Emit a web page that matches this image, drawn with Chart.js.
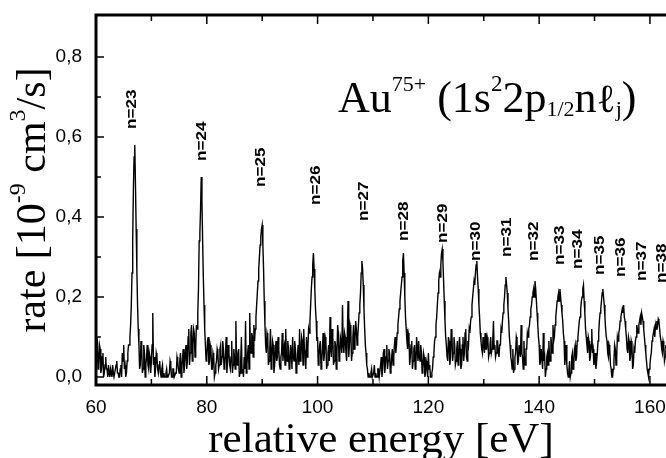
<!DOCTYPE html>
<html>
<head>
<meta charset="utf-8">
<script src="https://cdn.jsdelivr.net/npm/chart.js@4.4.1/dist/chart.umd.min.js"></script>
<style>
  html, body { margin: 0; padding: 0; background: #fff; }
  #wrap { width: 666px; height: 458px; }
</style>
</head>
<body>
<div id="wrap"><canvas id="chart" width="666" height="458"></canvas></div>
<script>
// spectrum channels: first energy and channel width [eV]
const energyStart = 60;
const energyStep = 0.125;

// rate [10^-9 cm^3/s], one row per 5 eV
const rate = [
    0.04,0.10, 0.09,0.02, 0.03,0.08, 0.07,0.01, 0.02,0.05, 0.06,0.00, 0.01,0.03, 0.05,0.02, 0.02,0.00, 0.03,0.01, 0.00,0.02, 0.01,0.00, 0.03,0.01, 0.00,0.00, 0.02,0.03, 0.04,0.01, 0.01,0.00, 0.00,0.02, 0.03,0.00, 0.06,0.04, // 60
    0.08,0.02, 0.03,0.00, 0.01,0.04, 0.06,0.08, 0.08,0.10, 0.13,0.18, 0.26,0.34, 0.47,0.55, 0.58,0.48, 0.37,0.27, 0.18,0.12, 0.08,0.02, 0.03,0.09, 0.07,0.01, 0.02,0.08, 0.06,0.00, 0.03,0.05, 0.08,0.03, 0.02,0.06, 0.05,0.01, // 65
    0.04,0.08, 0.16,0.03, 0.05,0.00, 0.02,0.06, 0.05,0.02, 0.01,0.03, 0.04,0.01, 0.00,0.02, 0.03,0.00, 0.01,0.00, 0.00,0.01, 0.02,0.00, 0.00,0.00, 0.01,0.04, 0.03,0.00, 0.00,0.02, 0.02,0.00, 0.00,0.01, 0.01,0.05, 0.04,0.02, // 70
    0.01,0.04, 0.06,0.00, 0.02,0.05, 0.07,0.01, 0.03,0.06, 0.08,0.02, 0.04,0.10, 0.12,0.03, 0.06,0.11, 0.13,0.04, 0.08,0.12, 0.11,0.05, 0.07,0.13, 0.12,0.16, 0.22,0.34, 0.36,0.42, 0.50,0.44, 0.34,0.25, 0.18,0.12, 0.08,0.04, // 75
    0.05,0.09, 0.10,0.03, 0.04,0.08, 0.07,0.02, 0.02,0.06, 0.05,0.00, 0.01,0.03, 0.04,0.07, 0.06,0.02, 0.03,0.07, 0.08,0.03, 0.05,0.09, 0.07,0.02, 0.03,0.06, 0.10,0.01, 0.04,0.08, 0.06,0.03, 0.02,0.05, 0.09,0.01, 0.03,0.07, // 80
    0.05,0.02, 0.14,0.04, 0.03,0.06, 0.07,0.00, 0.01,0.04, 0.10,0.01, 0.02,0.00, 0.05,0.02, 0.14,0.01, 0.03,0.06, 0.08,0.02, 0.16,0.07, 0.06,0.11, 0.10,0.05, 0.13,0.09, 0.12,0.15, 0.18,0.21, 0.24,0.27, 0.30,0.33, 0.35,0.37, // 85
    0.38,0.33, 0.27,0.19, 0.13,0.08, 0.06,0.11, 0.10,0.03, 0.04,0.07, 0.12,0.02, 0.05,0.09, 0.08,0.01, 0.03,0.06, 0.09,0.04, 0.05,0.10, 0.07,0.03, 0.02,0.05, 0.06,0.11, 0.04,0.07, 0.08,0.03, 0.12,0.05, 0.04,0.09, 0.07,0.02, // 90
    0.03,0.08, 0.06,0.02, 0.10,0.05, 0.04,0.09, 0.07,0.01, 0.02,0.06, 0.08,0.03, 0.12,0.04, 0.05,0.10, 0.09,0.03, 0.12,0.07, 0.06,0.02, 0.10,0.05, 0.07,0.12, 0.11,0.14, 0.18,0.22, 0.25,0.28, 0.31,0.27, 0.22,0.17, 0.14,0.09, // 95
    0.10,0.03, 0.05,0.08, 0.09,0.02, 0.04,0.07, 0.11,0.04, 0.06,0.10, 0.09,0.02, 0.03,0.06, 0.08,0.04, 0.15,0.07, 0.05,0.12, 0.10,0.03, 0.04,0.09, 0.08,0.02, 0.06,0.13, 0.11,0.04, 0.05,0.10, 0.09,0.06, 0.18,0.08, 0.06,0.11, // 100
    0.10,0.06, 0.04,0.11, 0.19,0.05, 0.08,0.13, 0.12,0.04, 0.06,0.10, 0.13,0.07, 0.09,0.14, 0.12,0.08, 0.10,0.13, 0.16,0.18, 0.21,0.26, 0.29,0.27, 0.23,0.17, 0.12,0.08, 0.06,0.03, 0.02,0.00, 0.01,0.00, 0.00,0.01, 0.02,0.00, // 105
    0.00,0.01, 0.03,0.00, 0.01,0.00, 0.00,0.02, 0.02,0.00, 0.00,0.03, 0.05,0.00, 0.02,0.06, 0.07,0.01, 0.03,0.05, 0.08,0.02, 0.04,0.07, 0.06,0.01, 0.02,0.05, 0.07,0.03, 0.05,0.08, 0.10,0.06, 0.08,0.11, 0.13,0.15, 0.17,0.19, // 110
    0.21,0.23, 0.25,0.29, 0.31,0.26, 0.20,0.15, 0.12,0.09, 0.07,0.11, 0.10,0.03, 0.05,0.08, 0.09,0.02, 0.04,0.07, 0.08,0.02, 0.03,0.10, 0.07,0.04, 0.09,0.05, 0.04,0.08, 0.06,0.01, 0.02,0.06, 0.05,0.00, 0.01,0.04, 0.03,0.00, // 115
    0.06,0.02, 0.03,0.00, 0.00,0.01, 0.02,0.05, 0.06,0.09, 0.10,0.13, 0.15,0.18, 0.21,0.24, 0.26,0.25, 0.28,0.31, 0.32,0.29, 0.24,0.19, 0.14,0.10, 0.08,0.05, 0.04,0.10, 0.09,0.03, 0.05,0.12, 0.11,0.04, 0.06,0.10, 0.08,0.03, // 120
    0.04,0.07, 0.09,0.03, 0.05,0.10, 0.07,0.02, 0.03,0.08, 0.10,0.04, 0.06,0.11, 0.12,0.05, 0.04,0.09, 0.08,0.12, 0.11,0.14, 0.15,0.18, 0.20,0.22, 0.24,0.23, 0.26,0.28, 0.29,0.25, 0.22,0.18, 0.15,0.11, 0.09,0.07, 0.06,0.10, // 125
    0.08,0.06, 0.11,0.07, 0.07,0.10, 0.09,0.05, 0.06,0.08, 0.10,0.06, 0.07,0.09, 0.14,0.07, 0.08,0.05, 0.06,0.09, 0.09,0.06, 0.05,0.08, 0.08,0.12, 0.11,0.14, 0.16,0.18, 0.20,0.23, 0.25,0.23, 0.21,0.17, 0.14,0.10, 0.08,0.05, // 130
    0.04,0.02, 0.07,0.01, 0.02,0.05, 0.06,0.10, 0.09,0.03, 0.04,0.08, 0.08,0.05, 0.13,0.06, 0.05,0.02, 0.09,0.04, 0.03,0.07, 0.07,0.11, 0.10,0.12, 0.13,0.15, 0.17,0.18, 0.20,0.21, 0.22,0.20, 0.24,0.22, 0.19,0.16, 0.13,0.10, // 135
    0.08,0.03, 0.04,0.07, 0.07,0.02, 0.11,0.04, 0.05,0.00, 0.02,0.05, 0.06,0.03, 0.09,0.05, 0.04,0.10, 0.08,0.06, 0.13,0.09, 0.10,0.13, 0.15,0.17, 0.19,0.20, 0.21,0.19, 0.22,0.20, 0.18,0.16, 0.14,0.11, 0.09,0.03, 0.05,0.08, // 140
    0.03,0.01, 0.00,0.02, 0.04,0.00, 0.01,0.05, 0.06,0.02, 0.03,0.07, 0.08,0.04, 0.05,0.09, 0.10,0.12, 0.14,0.15, 0.17,0.19, 0.20,0.22, 0.23,0.19, 0.16,0.12, 0.10,0.08, 0.06,0.10, 0.09,0.04, 0.05,0.08, 0.12,0.06, 0.07,0.03, // 145
    0.04,0.06, 0.02,0.04, 0.06,0.09, 0.11,0.14, 0.16,0.17, 0.19,0.21, 0.22,0.20, 0.18,0.15, 0.12,0.10, 0.09,0.06, 0.05,0.08, 0.07,0.03, 0.02,0.00, 0.00,0.02, 0.04,0.08, 0.07,0.03, 0.05,0.10, 0.09,0.11, 0.12,0.14, 0.15,0.16, // 150
    0.17,0.16, 0.18,0.15, 0.14,0.12, 0.10,0.07, 0.06,0.10, 0.09,0.04, 0.05,0.09, 0.08,0.02, 0.03,0.07, 0.06,0.09, 0.10,0.13, 0.12,0.11, 0.13,0.14, 0.15,0.13, 0.16,0.15, 0.14,0.12, 0.10,0.08, 0.06,0.04, 0.02,0.01, 0.00,0.02, // 155
    0.03,0.05, 0.06,0.09, 0.10,0.11, 0.12,0.10, 0.13,0.12, 0.14,0.13, 0.145,0.14, 0.12,0.10, 0.09,0.07, 0.06,0.09, 0.08,0.04, 0.05,0.08, 0.07           // 160
];

const xTicks = [60, 80, 100, 120, 140, 160];
const xMinorTicks = [70, 90, 110, 130, 150];
const yTicks = [0, 0.2, 0.4, 0.6, 0.8];
const yMinorTicks = [0.1, 0.3, 0.5, 0.7];

// peak labels: energy [eV] and rate where the label starts
const nLabels = ['n=23', 'n=24', 'n=25', 'n=26', 'n=27', 'n=28', 'n=29', 'n=30',
                 'n=31', 'n=32', 'n=33', 'n=34', 'n=35', 'n=36', 'n=37', 'n=38'];
const nLabelEnergy = [66.6, 79.1, 89.8, 99.7, 108.4, 115.6, 122.6, 128.6,
                      134.2, 139.1, 143.8, 147.0, 151.0, 154.8, 158.6, 162.2];
const nLabelRate = [0.62, 0.54, 0.475, 0.43, 0.39, 0.34, 0.335, 0.29,
                    0.30, 0.29, 0.28, 0.27, 0.255, 0.25, 0.24, 0.235];

const SERIF = '"Liberation Serif", "Times New Roman", serif';
const SANS = '"Liberation Sans", Arial, sans-serif';

// draw text made of pieces with own size and baseline shift (super/subscripts)
function drawRich(ctx, parts, x, y, align) {
    let total = 0;
    parts.forEach(p => {
        ctx.font = p[1] + 'px ' + SERIF;
        total += ctx.measureText(p[0]).width;
    });
    let cx = align === 'center' ? x - total / 2 : x;
    ctx.textAlign = 'left';
    ctx.textBaseline = 'alphabetic';
    parts.forEach(p => {
        ctx.font = p[1] + 'px ' + SERIF;
        ctx.fillText(p[0], cx, y + p[2]);
        cx += ctx.measureText(p[0]).width;
    });
}

const decorations = {
    id: 'decorations',
    afterDraw(chart) {
        const ctx = chart.ctx;
        const a = chart.chartArea;
        const xs = chart.scales.x;
        const ys = chart.scales.y;
        ctx.save();
        ctx.strokeStyle = '#000';
        ctx.fillStyle = '#000';

        // frame (no right edge in the scan)
        ctx.lineWidth = 3;
        ctx.beginPath();
        ctx.moveTo(a.right, a.top);
        ctx.lineTo(a.left, a.top);
        ctx.lineTo(a.left, a.bottom);
        ctx.lineTo(a.right, a.bottom);
        ctx.stroke();

        // inward ticks
        ctx.lineWidth = 1.5;
        ctx.beginPath();
        yTicks.forEach(v => { const y = ys.getPixelForValue(v); ctx.moveTo(a.left, y); ctx.lineTo(a.left + 8, y); });
        yMinorTicks.forEach(v => { const y = ys.getPixelForValue(v); ctx.moveTo(a.left, y); ctx.lineTo(a.left + 5, y); });
        xTicks.forEach(v => {
            const x = xs.getPixelForValue(v);
            ctx.moveTo(x, a.top); ctx.lineTo(x, a.top + 9);
            ctx.moveTo(x, a.bottom); ctx.lineTo(x, a.bottom - 9);
        });
        xMinorTicks.forEach(v => {
            const x = xs.getPixelForValue(v);
            ctx.moveTo(x, a.top); ctx.lineTo(x, a.top + 6);
            ctx.moveTo(x, a.bottom); ctx.lineTo(x, a.bottom - 6);
        });
        ctx.stroke();

        // n= labels, rotated
        ctx.font = 'bold 14px ' + SANS;
        ctx.textAlign = 'left';
        ctx.textBaseline = 'middle';
        nLabels.forEach((t, i) => {
            ctx.save();
            ctx.translate(xs.getPixelForValue(nLabelEnergy[i]), ys.getPixelForValue(nLabelRate[i]));
            ctx.rotate(-Math.PI / 2);
            ctx.scale(1.22, 1);
            ctx.fillText(t, 0, 0);
            ctx.restore();
        });

        // ion label
        drawRich(ctx, [
            ['Au', 44, 0], ['75+', 22, -21], [' (1s', 44, 0], ['2', 23, -21], ['2p', 44, 0],
            ['1/2', 22, 4], ['n', 44, 0], ['\u2113', 40, 0], ['j', 22, 4], [')', 44, 0]
        ], 338, 112, 'left');

        // axis titles
        ctx.save();
        ctx.translate(45, 200);
        ctx.rotate(-Math.PI / 2);
        drawRich(ctx, [
            ['rate [10', 42, 0], ['-9', 24, -20], [' cm', 42, 0], ['3', 24, -20], ['/s]', 42, 0]
        ], 0, 0, 'center');
        ctx.restore();

        drawRich(ctx, [['relative energy [eV]', 43, 0]], (a.left + a.right) / 2, 452, 'center');
        ctx.restore();
    }
};

const points = rate.map((r, i) => ({ x: energyStart + i * energyStep, y: r }));
const tickFont = { family: SANS, size: 19 };

new Chart(document.getElementById('chart'), {
    type: 'line',
    data: {
        datasets: [{
            data: points,
            borderColor: '#000',
            borderWidth: 1.4,
            pointRadius: 0,
            tension: 0,
            fill: false
        }]
    },
    options: {
        responsive: false,
        animation: false,
        devicePixelRatio: 1,
        layout: { padding: { top: 15, right: 0, left: 0, bottom: 0 } },
        plugins: {
            legend: { display: false },
            tooltip: { enabled: false }
        },
        scales: {
            x: {
                type: 'linear',
                min: 60,
                max: 162.9,
                grid: { display: false, drawTicks: false },
                border: { display: false },
                afterBuildTicks: s => { s.ticks = xTicks.map(v => ({ value: v })); },
                afterFit: s => { s.height = 73; s.paddingLeft = 0; s.paddingRight = 0; },
                ticks: { padding: 11, color: '#000', font: tickFont, maxRotation: 0, autoSkip: false }
            },
            y: {
                type: 'linear',
                min: -0.02,
                max: 0.905,
                grid: { display: false, drawTicks: false },
                border: { display: false },
                afterBuildTicks: s => { s.ticks = yTicks.map(v => ({ value: v })); },
                afterFit: s => { s.width = 96; s.paddingTop = 0; s.paddingBottom = 0; },
                ticks: {
                    padding: 14,
                    color: '#000',
                    font: tickFont,
                    autoSkip: false,
                    callback: v => v.toFixed(1).replace('.', ',')
                }
            }
        }
    },
    plugins: [decorations]
});
</script>
</body>
</html>
